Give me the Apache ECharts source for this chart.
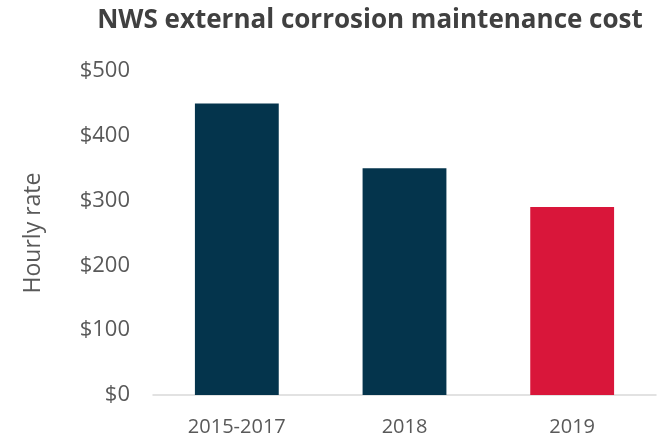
<!DOCTYPE html>
<html><head><meta charset="utf-8">
<script src="https://cdn.jsdelivr.net/npm/echarts@6/dist/echarts.min.js"></script>
<style>html,body{margin:0;padding:0;background:#fff}#c{width:660px;height:437px}</style>
</head><body><div id="c"></div>
<script>
const categories = ['2015-2017', '2018', '2019'];
const values = [450, 350, 290];
const barColors = ['#04344C', '#04344C', '#D9163A'];
const yTicks = [0, 100, 200, 300, 400, 500];

const chart = echarts.init(document.getElementById('c'));
chart.setOption({
  animation: false,
  title: {
    text: 'NWS external corrosion maintenance cost',
    left: 365, top: 3, textAlign: 'center',
    textStyle: {fontFamily: 'Open Sans', fontWeight: 'bold', fontSize: 26, color: '#404040'}
  },
  grid: {left: 153, right: 4, top: 71, bottom: 42},
  xAxis: {
    type: 'category', data: categories,
    axisLine: {lineStyle: {color: '#D9D9D9', width: 1.5}},
    axisTick: {show: false},
    axisLabel: {fontFamily: 'Open Sans', fontSize: 20, color: '#595959', margin: 22}
  },
  yAxis: {
    type: 'value', min: yTicks[0], max: yTicks[yTicks.length - 1], interval: 100,
    name: 'Hourly rate', nameLocation: 'middle', nameGap: 108, nameRotate: 90,
    nameTextStyle: {fontFamily: 'Open Sans', fontSize: 23, color: '#595959'},
    splitLine: {show: false}, axisLine: {show: false}, axisTick: {show: false},
    axisLabel: {fontFamily: 'Open Sans', fontSize: 22, color: '#595959', margin: 23,
      formatter: v => '$' + v}
  },
  series: [{
    type: 'bar', barWidth: '50%',
    data: values.map((v, i) => ({value: v, itemStyle: {color: barColors[i]}}))
  }]
});
</script></body></html>
